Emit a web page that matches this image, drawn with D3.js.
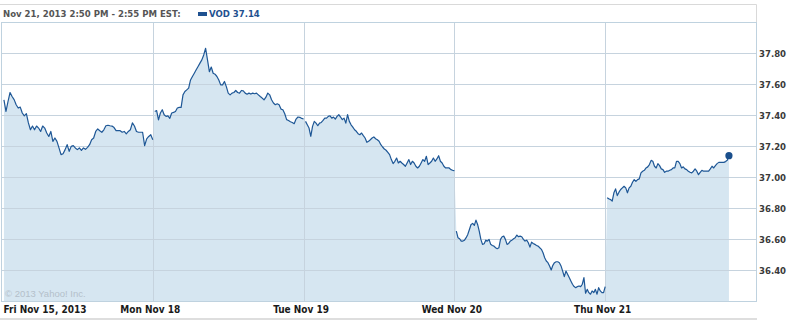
<!DOCTYPE html>
<html>
<head>
<meta charset="utf-8">
<script src="https://cdn.jsdelivr.net/npm/d3@7"></script>
<style>
  body { margin: 0; background: #fff; }
  svg { display: block; }
  .hdr { font-family: "DejaVu Sans Condensed", "DejaVu Sans", sans-serif; font-weight: bold; font-size: 9.5px; }
  .yax text { font-family: "DejaVu Sans Condensed", "DejaVu Sans", sans-serif; font-weight: bold; font-size: 9.5px; fill: #3a3a3a; }
  .xax text { font-family: "DejaVu Sans Condensed", "DejaVu Sans", sans-serif; font-weight: bold; font-size: 10px; fill: #1a1a1a; }
</style>
</head>
<body>
<div id="chart"></div>
<script>
// Day labels (x axis) and price ticks (y axis)
const dayLabels = ['Fri Nov 15, 2013', 'Mon Nov 18', 'Tue Nov 19', 'Wed Nov 20', 'Thu Nov 21'];
const priceTicks = [36.4, 36.6, 36.8, 37.0, 37.2, 37.4, 37.6, 37.8];
const headerText = 'Nov 21, 2013 2:50 PM - 2:55 PM EST:';
const seriesName = 'VOD';
const lastPrice = 37.14;

// minutes of the session (9:30 open) covered by each day's first and last quote
const sessionLength = 390;
const dayEnds = [390, 390, 390, 390, 320];

// 5-minute quotes
const fri15 = [37.499, 37.424, 37.488, 37.546, 37.52, 37.50, 37.467, 37.446, 37.452, 37.414,
  37.396, 37.41, 37.35, 37.306, 37.33, 37.306, 37.33, 37.317, 37.295, 37.33,
  37.317, 37.285, 37.263, 37.295, 37.231, 37.253, 37.231, 37.189, 37.146, 37.152,
  37.178, 37.21, 37.167, 37.199, 37.204, 37.189, 37.178, 37.189, 37.173, 37.189,
  37.18, 37.193, 37.21, 37.242, 37.253, 37.295, 37.311, 37.30, 37.29, 37.306,
  37.332, 37.335, 37.332, 37.33, 37.32, 37.30, 37.30, 37.30, 37.29, 37.295,
  37.28, 37.295, 37.306, 37.35, 37.33, 37.295, 37.29, 37.29, 37.29, 37.204,
  37.247, 37.263, 37.274, 37.242];

const mon18 = [37.424, 37.43, 37.37, 37.414, 37.435, 37.403, 37.392, 37.395, 37.38, 37.414,
  37.418, 37.424, 37.446, 37.45, 37.45, 37.531, 37.552, 37.563, 37.574, 37.627,
  37.649, 37.67, 37.692, 37.713, 37.735, 37.756, 37.788, 37.831, 37.756, 37.68,
  37.71, 37.67, 37.664, 37.649, 37.627, 37.595, 37.595, 37.617, 37.584, 37.542,
  37.531, 37.542, 37.546, 37.559, 37.546, 37.542, 37.559, 37.556, 37.542, 37.535,
  37.542, 37.536, 37.542, 37.538, 37.542, 37.531, 37.52, 37.51, 37.499, 37.516,
  37.542, 37.531, 37.499, 37.478, 37.467, 37.473, 37.467, 37.439, 37.435, 37.409,
  37.371, 37.366, 37.358, 37.353, 37.345, 37.375, 37.388, 37.386, 37.379, 37.375];

const tue19 = [37.36, 37.338, 37.317, 37.264, 37.328, 37.36, 37.349, 37.332, 37.349, 37.353,
  37.366, 37.381, 37.381, 37.392, 37.396, 37.381, 37.388, 37.375, 37.392, 37.403,
  37.388, 37.371, 37.381, 37.349, 37.403, 37.36, 37.338, 37.323, 37.306, 37.296,
  37.281, 37.274, 37.285, 37.268, 37.253, 37.225, 37.232, 37.242, 37.253, 37.26,
  37.248, 37.242, 37.232, 37.21, 37.195, 37.182, 37.174, 37.161, 37.146, 37.114,
  37.088, 37.103, 37.124, 37.092, 37.103, 37.092, 37.082, 37.071, 37.092, 37.114,
  37.082, 37.103, 37.092, 37.071, 37.06, 37.071, 37.092, 37.114, 37.103, 37.135,
  37.082, 37.092, 37.103, 37.124, 37.103, 37.118, 37.139, 37.103, 37.092, 37.071,
  37.06, 37.06, 37.06, 37.049, 37.045, 37.043];

const wed20 = [36.653, 36.611, 36.604, 36.589, 36.589, 36.595, 36.611, 36.632, 36.664, 36.696,
  36.703, 36.690, 36.724, 36.696, 36.653, 36.600, 36.568, 36.572, 36.595, 36.589,
  36.600, 36.568, 36.561, 36.557, 36.546, 36.540, 36.546, 36.600, 36.617, 36.621,
  36.600, 36.568, 36.574, 36.589, 36.595, 36.604, 36.611, 36.628, 36.617, 36.621,
  36.617, 36.600, 36.589, 36.595, 36.578, 36.550, 36.582, 36.574, 36.568, 36.561,
  36.557, 36.546, 36.536, 36.514, 36.482, 36.461, 36.450, 36.429, 36.403, 36.433,
  36.450, 36.456, 36.456, 36.450, 36.429, 36.396, 36.360, 36.396, 36.375, 36.354,
  36.332, 36.311, 36.296, 36.289, 36.296, 36.300, 36.296, 36.311, 36.354, 36.253,
  36.278, 36.257, 36.247, 36.268, 36.257, 36.278, 36.247, 36.289, 36.268, 36.257,
  36.257, 36.296];

const thu21 = [36.868, 36.861, 36.857, 36.846, 36.900, 36.925, 36.882, 36.904, 36.921, 36.932,
  36.942, 36.932, 36.900, 36.932, 36.942, 36.968, 36.985, 36.974, 36.985, 36.990,
  37.028, 37.039, 37.045, 37.060, 37.067, 37.082, 37.109, 37.103, 37.071, 37.060,
  37.088, 37.075, 37.054, 37.049, 37.032, 37.039, 37.039, 37.045, 37.049, 37.060,
  37.060, 37.103, 37.103, 37.088, 37.060, 37.067, 37.054, 37.049, 37.039, 37.032,
  37.028, 37.039, 37.054, 37.039, 37.017, 37.032, 37.045, 37.039, 37.039, 37.039,
  37.039, 37.054, 37.071, 37.060, 37.075, 37.088, 37.096, 37.096, 37.096, 37.096,
  37.101, 37.109, 37.139];

const days = [fri15, mon18, tue19, wed20, thu21];

// Layout
const W = 806, H = 322;
const plot = { left: 2, right: 756, top: 22, bottom: 301.5 };

const svg = d3.select('#chart')
    .append('svg')
    .attr('width', W)
    .attr('height', H);

// Scales
const x = d3.scaleLinear()
    .domain([0, sessionLength * days.length])
    .range([plot.left, plot.right]);

const y = d3.scaleLinear()
    .domain([36.2, 38.0])
    .range([plot.bottom, plot.top]);

// Turn each day's quotes into {t, v} points, spread over the session
const points = days.map((vals, d) => vals.map((v, i) => ({
    t: d * sessionLength + 5 + i * (dayEnds[d] - 5) / (vals.length - 1),
    v: v
})));
const allPoints = points.flat();

// Header box
svg.append('path')
    .attr('d', `M0,4.5H${plot.right + 0.5}V${plot.top}`)
    .attr('fill', 'none')
    .attr('stroke', '#d9d9d9');

svg.append('text')
    .attr('class', 'hdr')
    .attr('x', 3)
    .attr('y', 16.5)
    .attr('fill', '#555')
    .text(headerText);

svg.append('rect')
    .attr('x', 198)
    .attr('y', 12)
    .attr('width', 9)
    .attr('height', 4)
    .attr('fill', '#1f5190');

svg.append('text')
    .attr('class', 'hdr')
    .attr('x', 209)
    .attr('y', 16.5)
    .attr('fill', '#1f5190')
    .text(`${seriesName} ${lastPrice.toFixed(2)}`);

// Area under the price
const area = d3.area()
    .x(d => x(d.t))
    .y0(plot.bottom)
    .y1(d => y(d.v));

svg.append('path')
    .datum(allPoints)
    .attr('d', area)
    .attr('fill', '#d6e6f1');

// Horizontal gridlines
svg.append('g')
    .attr('class', 'grid')
    .selectAll('line')
    .data(priceTicks)
    .enter()
    .append('line')
    .attr('x1', plot.left)
    .attr('x2', plot.right)
    .attr('y1', d => Math.round(y(d)) + 0.5)
    .attr('y2', d => Math.round(y(d)) + 0.5)
    .attr('stroke', '#c6d3de');

// Vertical day separators
svg.append('g')
    .selectAll('line')
    .data(d3.range(1, days.length))
    .enter()
    .append('line')
    .attr('x1', d => Math.round(x(d * sessionLength)) + 0.5)
    .attr('x2', d => Math.round(x(d * sessionLength)) + 0.5)
    .attr('y1', plot.top)
    .attr('y2', plot.bottom)
    .attr('stroke', '#c6d3de');

// Plot frame
svg.append('rect')
    .attr('x', plot.left - 0.5)
    .attr('y', plot.top + 0.5)
    .attr('width', plot.right - plot.left + 1)
    .attr('height', plot.bottom - plot.top - 0.5)
    .attr('fill', 'none')
    .attr('stroke', '#bfd2df');

// Price line, one segment per day
const line = d3.line()
    .x(d => x(d.t))
    .y(d => y(d.v));

svg.append('g')
    .selectAll('path')
    .data(points)
    .enter()
    .append('path')
    .attr('d', line)
    .attr('fill', 'none')
    .attr('stroke', '#1e5796')
    .attr('stroke-width', 1.2)
    .attr('stroke-linejoin', 'round');

// Last quote marker
const last = thu21.length - 1;
svg.append('circle')
    .attr('cx', x(points[4][last].t))
    .attr('cy', y(points[4][last].v))
    .attr('r', 3.6)
    .attr('fill', '#1a4f8c');

// Copyright
svg.append('text')
    .attr('x', 5)
    .attr('y', 297)
    .attr('fill', '#b4c0ca')
    .style('font-family', '"Liberation Sans", Arial, sans-serif')
    .style('font-size', '9.5px')
    .text('\u00a9 2013 Yahoo! Inc.');

// Y axis on the right
const yAxis = d3.axisRight(y)
    .tickValues(priceTicks)
    .tickSize(0)
    .tickPadding(0)
    .tickFormat(d3.format('.2f'));

svg.append('g')
    .attr('class', 'yax')
    .attr('transform', `translate(${plot.right + 3},0)`)
    .call(yAxis)
    .call(g => g.select('.domain').remove());

// X axis with day labels
const xAxis = d3.axisBottom(x)
    .tickValues(d3.range(0, days.length).map(d => d * sessionLength))
    .tickSize(0)
    .tickPadding(0)
    .tickFormat((d, i) => dayLabels[i]);

svg.append('g')
    .attr('class', 'xax')
    .attr('transform', `translate(0,${plot.bottom + 4})`)
    .call(xAxis)
    .call(g => g.select('.domain').remove())
    .call(g => g.selectAll('.tick text')
        .attr('dx', (d, i) => i === 0 ? 1 : -3)
        .style('text-anchor', (d, i) => i === 0 ? 'start' : 'middle'));

// Bottom bar
svg.append('rect')
    .attr('x', 0)
    .attr('y', 318)
    .attr('width', plot.right + 1)
    .attr('height', 2)
    .attr('fill', '#dedede');
</script>
</body>
</html>
